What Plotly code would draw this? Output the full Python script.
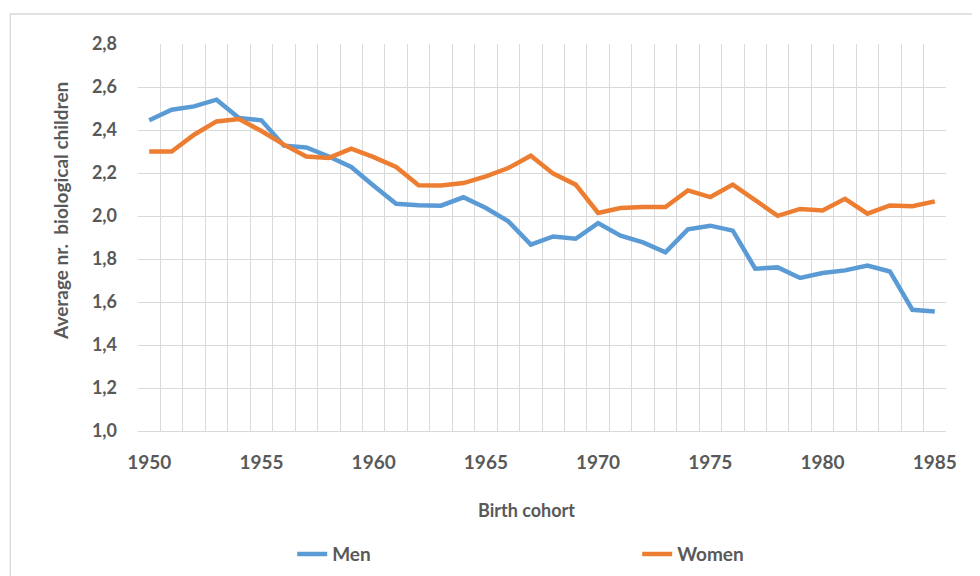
import plotly.graph_objects as go

years = list(range(1950, 1986))
men = [2.445, 2.494, 2.510, 2.541, 2.456, 2.445, 2.327, 2.319, 2.277, 2.228,
       2.141, 2.057, 2.050, 2.048, 2.087, 2.037, 1.975, 1.867, 1.905, 1.894,
       1.967, 1.908, 1.877, 1.831, 1.938, 1.955, 1.932, 1.755, 1.761, 1.712,
       1.735, 1.747, 1.769, 1.742, 1.564, 1.556]
women = [2.300, 2.300, 2.378, 2.440, 2.451, 2.395, 2.332, 2.277, 2.270, 2.313,
         2.274, 2.228, 2.143, 2.142, 2.153, 2.184, 2.223, 2.280, 2.197, 2.146,
         2.014, 2.037, 2.042, 2.042, 2.119, 2.088, 2.146, 2.073, 2.001, 2.033,
         2.026, 2.080, 2.011, 2.049, 2.045, 2.068]
x_ticks = [1950, 1955, 1960, 1965, 1970, 1975, 1980, 1985]
y_ticks = [1.0, 1.2, 1.4, 1.6, 1.8, 2.0, 2.2, 2.4, 2.6, 2.8]
x_title = "Birth cohort"
y_title = "Average nr.\u00a0 biological children"

FONT = "Lato, 'Open Sans', sans-serif"
GREY = "#595959"
GRID = "#D9D9D9"

fig = go.Figure()
fig.add_trace(go.Scatter(x=years, y=men, name="Men", mode="lines",
                         line=dict(color="#5B9BD5", width=4.5)))
fig.add_trace(go.Scatter(x=years, y=women, name="Women", mode="lines",
                         line=dict(color="#ED7D31", width=4.5)))

fig.update_layout(
    width=980, height=576,
    margin=dict(l=130, r=42, t=36, b=153, autoexpand=False),
    paper_bgcolor="white", plot_bgcolor="white",
    separators=", ",
    font=dict(family=FONT, color=GREY, size=17),
    showlegend=True,
    legend=dict(orientation="h", xref="container", yref="container",
                x=0.29, xanchor="left", y=0.052, yanchor="middle",
                entrywidth=300, entrywidthmode="pixels",
                font=dict(family=FONT, size=19, color=GREY, weight="bold")),
    shapes=[dict(type="rect", xref="paper", yref="paper",
                 x0=-0.158, x1=1.2, y0=-0.5, y1=1.0775,
                 line=dict(color=GRID, width=1.3), layer="below")],
    annotations=[
        dict(text=x_title, xref="paper", yref="paper", x=0.4814, y=-0.204,
             xanchor="center", yanchor="middle", showarrow=False,
             font=dict(family=FONT, size=18, color=GREY, weight="bold")),
        dict(text=y_title, xref="paper", yref="paper", x=-0.0953, y=0.5685,
             xanchor="center", yanchor="middle", showarrow=False, textangle=-90,
             font=dict(family=FONT, size=19, color=GREY, weight="bold")),
    ],
)

fig.update_xaxes(
    range=[1949.5, 1985.5], automargin=False,
    tickvals=x_ticks, ticktext=[str(v) for v in x_ticks],
    showgrid=False, zeroline=False,
    showline=True, linecolor=GRID, linewidth=1.3,
    ticks="", ticklabelstandoff=14,
    tickfont=dict(family=FONT, size=19, color=GREY, weight="bold"),
    minor=dict(tick0=1949.5, dtick=1, showgrid=True, gridcolor=GRID, gridwidth=1.3),
)
fig.update_yaxes(
    range=[1.0, 2.8], automargin=False,
    tickvals=y_ticks, tickformat=".1f",
    showgrid=True, gridcolor=GRID, gridwidth=1.3, zeroline=False,
    showline=False, ticks="", ticklabelstandoff=20,
    tickfont=dict(family=FONT, size=18, color=GREY, weight="bold"),
)

fig.write_html("out.html")
